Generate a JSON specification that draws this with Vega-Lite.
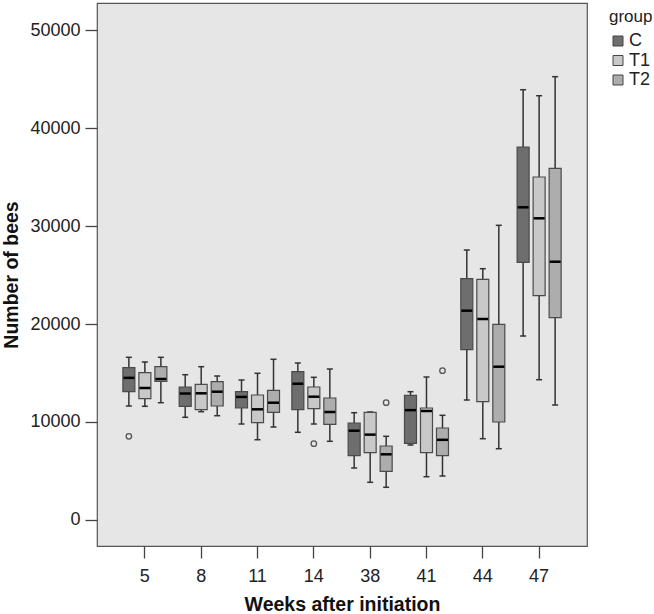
{
  "$schema": "https://vega.github.io/schema/vega-lite/v6.json",
  "width": 490,
  "height": 543,
  "autosize": {"type": "none"},
  "padding": {"left": 97, "top": 3, "right": 67, "bottom": 68},
  "background": "white",
  "config": {
    "font": "Liberation Sans",
    "view": {"fill": "#e6e6e6", "stroke": "#555555", "strokeWidth": 1.2},
    "axis": {"labelFont": "Liberation Sans", "titleFont": "Liberation Sans", "labelColor": "#222222", "titleColor": "#111111", "tickColor": "#444444", "tickWidth": 1.3, "domain": false, "grid": false},
    "legend": {"labelFont": "Liberation Sans", "titleFont": "Liberation Sans"}
  },
  "datasets": {
    "stats": [
      {"week": 5, "group": "C", "lower": 11624, "q1": 13085, "median": 14500, "q3": 15536, "upper": 16598},
      {"week": 5, "group": "T1", "lower": 11594, "q1": 12370, "median": 13463, "q3": 15025, "upper": 16118},
      {"week": 5, "group": "T2", "lower": 11961, "q1": 14147, "median": 14382, "q3": 15639, "upper": 16598},
      {"week": 8, "group": "C", "lower": 10470, "q1": 11594, "median": 12900, "q3": 13565, "upper": 14821},
      {"week": 8, "group": "T1", "lower": 11042, "q1": 11246, "median": 12921, "q3": 13841, "upper": 15639},
      {"week": 8, "group": "T2", "lower": 10633, "q1": 11624, "median": 13085, "q3": 14106, "upper": 14688},
      {"week": 11, "group": "C", "lower": 9786, "q1": 11420, "median": 12550, "q3": 13085, "upper": 14280},
      {"week": 11, "group": "T1", "lower": 8182, "q1": 9918, "median": 11287, "q3": 12748, "upper": 14964},
      {"week": 11, "group": "T2", "lower": 9479, "q1": 10981, "median": 11961, "q3": 13228, "upper": 16394},
      {"week": 14, "group": "C", "lower": 8938, "q1": 11246, "median": 13900, "q3": 15128, "upper": 16016},
      {"week": 14, "group": "T1", "lower": 9786, "q1": 11348, "median": 12574, "q3": 13565, "upper": 14556},
      {"week": 14, "group": "T2", "lower": 8018, "q1": 9755, "median": 11011, "q3": 12441, "upper": 15403},
      {"week": 38, "group": "C", "lower": 5291, "q1": 6548, "median": 9100, "q3": 9888, "upper": 10940},
      {"week": 38, "group": "T1", "lower": 3830, "q1": 6854, "median": 8700, "q3": 10981, "upper": 11011},
      {"week": 38, "group": "T2", "lower": 3320, "q1": 4954, "median": 6690, "q3": 7538, "upper": 8529},
      {"week": 41, "group": "C", "lower": 7640, "q1": 7814, "median": 11200, "q3": 12717, "upper": 13085},
      {"week": 41, "group": "T1", "lower": 4402, "q1": 6854, "median": 11113, "q3": 11420, "upper": 14586},
      {"week": 41, "group": "T2", "lower": 4474, "q1": 6548, "median": 8170, "q3": 9377, "upper": 10674},
      {"week": 44, "group": "C", "lower": 12237, "q1": 17375, "median": 21359, "q3": 24627, "upper": 27559},
      {"week": 44, "group": "T1", "lower": 8284, "q1": 12063, "median": 20511, "q3": 24566, "upper": 25649},
      {"week": 44, "group": "T2", "lower": 7262, "q1": 9990, "median": 15639, "q3": 19969, "upper": 30082},
      {"week": 47, "group": "C", "lower": 18774, "q1": 26302, "median": 31920, "q3": 38080, "upper": 43932},
      {"week": 47, "group": "T1", "lower": 14310, "q1": 22891, "median": 30797, "q3": 35015, "upper": 43319},
      {"week": 47, "group": "T2", "lower": 11726, "q1": 20644, "median": 26364, "q3": 35904, "upper": 45263}
    ],
    "outliers": [
      {"week": 5, "group": "C", "value": 8529},
      {"week": 14, "group": "T1", "value": 7773},
      {"week": 38, "group": "T2", "value": 11961},
      {"week": 41, "group": "T2", "value": 15230}
    ]
  },
  "encoding": {
    "x": {
      "field": "week", "type": "ordinal",
      "scale": {"domain": [5, 8, 11, 14, 38, 41, 44, 47], "paddingInner": 0, "paddingOuter": 0.35},
      "axis": {"title": "Weeks after initiation", "labelAngle": 0, "labelFontSize": 18, "tickSize": 12, "labelPadding": 9, "titleFontSize": 19.5, "titleFontWeight": "bold", "titlePadding": 10}
    },
    "xOffset": {
      "field": "group", "type": "nominal",
      "scale": {"domain": ["C", "T1", "T2"], "paddingInner": 0.25, "paddingOuter": 0.385}
    }
  },
  "layer": [
    {
      "data": {"name": "stats"},
      "mark": {"type": "rule", "stroke": "#333333", "strokeWidth": 1.5},
      "encoding": {
        "y": {
          "field": "lower", "type": "quantitative",
          "scale": {"domain": [-2676, 52790], "nice": false, "zero": false},
          "axis": {"values": [0, 10000, 20000, 30000, 40000, 50000], "format": "d", "title": "Number of bees", "labelFontSize": 18, "tickSize": 12, "labelPadding": 5, "titleFontSize": 19.5, "titleFontWeight": "bold", "titlePadding": 8}
        },
        "y2": {"field": "upper"}
      }
    },
    {
      "data": {"name": "stats"},
      "mark": {"type": "tick", "color": "#333333", "size": 6, "thickness": 1.5, "opacity": 1},
      "encoding": {"y": {"field": "upper", "type": "quantitative"}}
    },
    {
      "data": {"name": "stats"},
      "mark": {"type": "tick", "color": "#333333", "size": 6, "thickness": 1.5, "opacity": 1},
      "encoding": {"y": {"field": "lower", "type": "quantitative"}}
    },
    {
      "data": {"name": "stats"},
      "mark": {"type": "bar", "stroke": "#4a4a4a", "strokeWidth": 1.2},
      "encoding": {
        "y": {"field": "q1", "type": "quantitative"},
        "y2": {"field": "q3"},
        "fill": {
          "field": "group", "type": "nominal",
          "scale": {"domain": ["C", "T1", "T2"], "range": ["#6e6e6e", "#c8c8c8", "#adadad"]},
          "legend": {
            "title": "group", "orient": "none", "legendX": 512, "legendY": 6,
            "titleFontSize": 17, "titleFontWeight": "normal", "titleColor": "#222222", "titlePadding": 6,
            "labelFontSize": 18, "labelColor": "#222222", "labelOffset": 2,
            "symbolType": "square", "symbolSize": 100, "symbolStrokeColor": "#444444", "symbolStrokeWidth": 1, "symbolOpacity": 1,
            "rowPadding": 1.5
          }
        }
      }
    },
    {
      "data": {"name": "stats"},
      "mark": {"type": "tick", "color": "#000000", "size": 11, "thickness": 2.5, "opacity": 1},
      "encoding": {"y": {"field": "median", "type": "quantitative"}}
    },
    {
      "data": {"name": "outliers"},
      "mark": {"type": "point", "shape": "circle", "filled": false, "stroke": "#555555", "strokeWidth": 1.3, "size": 30, "opacity": 1},
      "encoding": {"y": {"field": "value", "type": "quantitative"}}
    }
  ]
}
